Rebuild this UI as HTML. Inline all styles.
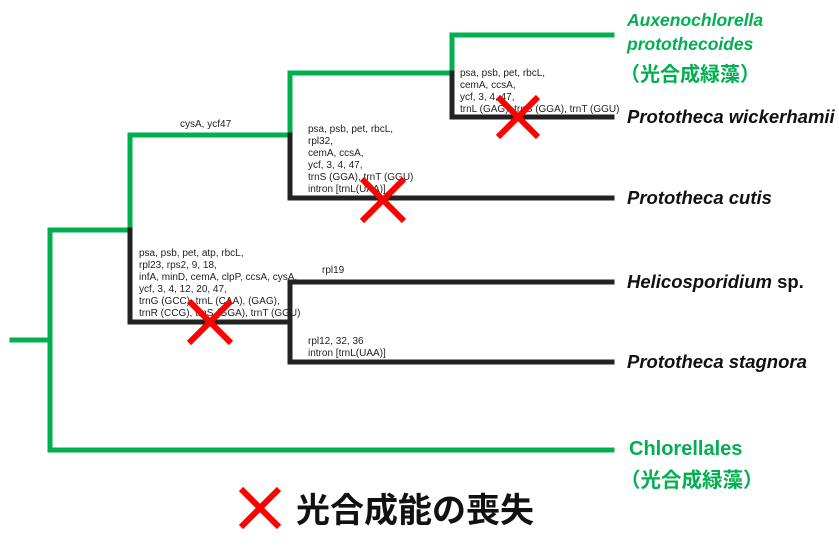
<!DOCTYPE html>
<html><head><meta charset="utf-8"><style>
body{margin:0;background:#fff;}
svg{display:block}
.s{font-family:"Liberation Sans",sans-serif;font-size:10px;fill:#222}
.t{font-family:"Liberation Sans","Noto Sans CJK JP",sans-serif;font-weight:bold;font-size:18.5px}
</style></head><body>
<svg width="839" height="552" viewBox="0 0 839 552">
<g stroke-width="5" fill="none" stroke-linecap="square">
<path d="M12 340H50M50 230V450H612M50 230H130V135H290V73H452V35H612" stroke="#00b050"/>
<path d="M130 230V322H290M290 282V362M290 282H612M290 362H612M290 135V198H612M452 73V117H612" stroke="#222"/>
</g>
<text class="s" x="180" y="127">cysA, ycf47</text>
<text class="s"><tspan x="460" y="76">psa, psb, pet, rbcL,</tspan><tspan x="460" y="88">cemA, ccsA,</tspan><tspan x="460" y="100">ycf, 3, 4, 47,</tspan><tspan x="460" y="112">trnL (GAG), trnS (GGA), trnT (GGU)</tspan></text>
<text class="s"><tspan x="308" y="132">psa, psb, pet, rbcL,</tspan><tspan x="308" y="144">rpl32,</tspan><tspan x="308" y="156">cemA, ccsA,</tspan><tspan x="308" y="168">ycf, 3, 4, 47,</tspan><tspan x="308" y="180">trnS (GGA), trnT (GGU)</tspan><tspan x="308" y="192">intron [trnL(UAA)]</tspan></text>
<text class="s"><tspan x="139" y="256">psa, psb, pet, atp, rbcL,</tspan><tspan x="139" y="268">rpl23, rps2, 9, 18,</tspan><tspan x="139" y="280">infA, minD, cemA, clpP, ccsA, cysA,</tspan><tspan x="139" y="292">ycf, 3, 4, 12, 20, 47,</tspan><tspan x="139" y="304">trnG (GCC), trnL (CAA), (GAG),</tspan><tspan x="139" y="316">trnR (CCG), trnS (GGA), trnT (GGU)</tspan></text>
<text class="s" x="322" y="273">rpl19</text>
<text class="s"><tspan x="308" y="344">rpl12, 32, 36</tspan><tspan x="308" y="356">intron [trnL(UAA)]</tspan></text>
<g stroke="#ff0000" stroke-width="6">
<path d="M498 97L538 137M538 97L498 137"/>
<path d="M362 179L404 221M404 179L362 221"/>
<path d="M189 301L231 343M231 301L189 343"/>
<path d="M241 489L279 527M279 489L241 527"/>
</g>
<g class="t">
<text x="627" y="26" fill="#00b050" font-style="italic" font-size="17.5">Auxenochlorella</text>
<text x="627" y="50" fill="#00b050" font-style="italic" font-size="17.5">protothecoides</text>
<text x="620" y="81" fill="#00b050" font-size="20">（光合成緑藻）</text>
<text x="627" y="123" fill="#111" font-style="italic">Prototheca wickerhamii</text>
<text x="627" y="204" fill="#111" font-style="italic">Prototheca cutis</text>
<text x="627" y="288" fill="#111"><tspan font-style="italic">Helicosporidium</tspan> sp.</text>
<text x="627" y="368" fill="#111" font-style="italic">Prototheca stagnora</text>
<text x="629" y="455" fill="#00b050" font-size="20">Chlorellales</text>
<text x="620" y="487" fill="#00b050" font-size="20.5">（光合成緑藻）</text>
</g>
<text x="296" y="522" font-family="'Noto Sans CJK JP',sans-serif" font-weight="bold" font-size="34" fill="#111">光合成能の喪失</text>
</svg>
</body></html>
